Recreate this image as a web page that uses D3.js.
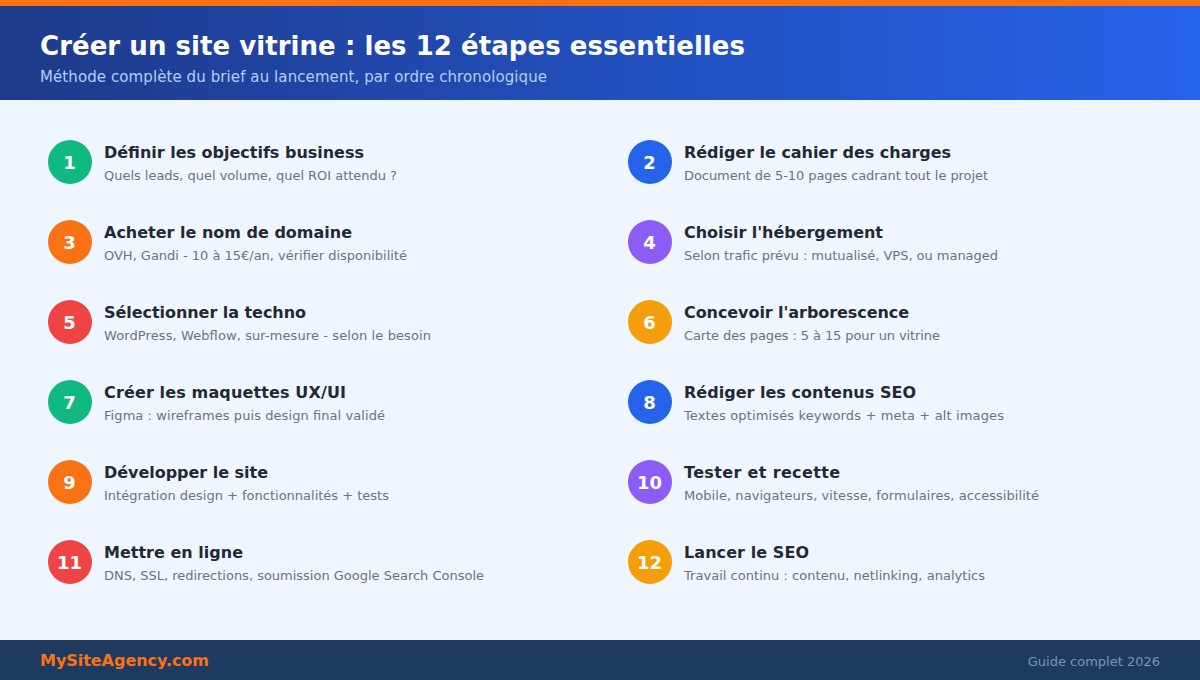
<!DOCTYPE html>
<html>
<head>
<meta charset="utf-8">
<script src="https://cdn.jsdelivr.net/npm/d3@7"></script>
<style>
  html, body { margin: 0; padding: 0; background: #eff6ff; }
  svg { display: block; font-family: "DejaVu Sans", sans-serif; }
</style>
</head>
<body>
<div id="chart"></div>
<script>
const title = "Créer un site vitrine : les 12 étapes essentielles";
const subtitle = "Méthode complète du brief au lancement, par ordre chronologique";
const brand = "MySiteAgency.com";
const footerNote = "Guide complet 2026";

const stepNumbers = [1, 2, 3, 4, 5, 6, 7, 8, 9, 10, 11, 12];
const stepTitles = [
  "Définir les objectifs business",
  "Rédiger le cahier des charges",
  "Acheter le nom de domaine",
  "Choisir l'hébergement",
  "Sélectionner la techno",
  "Concevoir l'arborescence",
  "Créer les maquettes UX/UI",
  "Rédiger les contenus SEO",
  "Développer le site",
  "Tester et recette",
  "Mettre en ligne",
  "Lancer le SEO",
];
const stepDetails = [
  "Quels leads, quel volume, quel ROI attendu ?",
  "Document de 5-10 pages cadrant tout le projet",
  "OVH, Gandi - 10 à 15€/an, vérifier disponibilité",
  "Selon trafic prévu : mutualisé, VPS, ou managed",
  "WordPress, Webflow, sur-mesure - selon le besoin",
  "Carte des pages : 5 à 15 pour un vitrine",
  "Figma : wireframes puis design final validé",
  "Textes optimisés keywords + meta + alt images",
  "Intégration design + fonctionnalités + tests",
  "Mobile, navigateurs, vitesse, formulaires, accessibilité",
  "DNS, SSL, redirections, soumission Google Search Console",
  "Travail continu : contenu, netlinking, analytics",
];
const badgeColors = ["#10b981", "#2563eb", "#f97316", "#8b5cf6", "#ef4444", "#f59e0b"];

// text run lengths, the reference hints its glyphs a bit wider or narrower than here
const titleLengths = [260, 267, 248, 199, 202, 225, 242, 232, 164, 156, 139, 125];
const detailLengths = [293, 304, 303, 314, 327, 256, 281, 320, 285, 355, 380, 301];

const width = 1200;
const height = 680;

const svg = d3
  .select("#chart")
  .append("svg")
  .attr("width", width)
  .attr("height", height);

const defs = svg.append("defs");
const grad = defs
  .append("linearGradient")
  .attr("id", "headerGrad")
  .attr("x1", "0%")
  .attr("x2", "100%")
  .attr("y1", "0%")
  .attr("y2", "0%");
grad.append("stop").attr("offset", "0%").attr("stop-color", "#1e3a8a");
grad.append("stop").attr("offset", "100%").attr("stop-color", "#2563eb");

// background, header, footer
svg.append("rect").attr("width", width).attr("height", height).attr("fill", "#eff6ff");
svg.append("rect").attr("width", width).attr("height", 100).attr("fill", "url(#headerGrad)");
svg.append("rect").attr("width", width).attr("height", 6).attr("fill", "#f97316");
svg.append("rect").attr("y", 640).attr("width", width).attr("height", 40).attr("fill", "#1e3a5f");

svg.append("text")
  .attr("x", 40).attr("y", 55)
  .attr("font-size", 26).attr("font-weight", 700).attr("fill", "#ffffff")
  .attr("textLength", 705)
  .text(title);
svg.append("text")
  .attr("x", 40).attr("y", 82)
  .attr("font-size", 15).attr("fill", "#b4cef8")
  .attr("textLength", 507)
  .text(subtitle);

svg.append("text")
  .attr("x", 40).attr("y", 666)
  .attr("font-size", 16).attr("font-weight", 700).attr("fill", "#f97316")
  .attr("textLength", 169)
  .text(brand);
svg.append("text")
  .attr("x", 1160).attr("y", 666)
  .attr("text-anchor", "end")
  .attr("font-size", 13).attr("fill", "#7f95b3")
  .text(footerNote);

// grid of steps: two columns, six rows
const col = d3.scaleOrdinal().domain([0, 1]).range([70, 650]);
const row = d3.scaleLinear().domain([0, 5]).range([162, 562]);

const steps = svg
  .append("g")
  .selectAll("g")
  .data(stepNumbers)
  .enter()
  .append("g")
  .attr("transform", (d, i) => `translate(${col(i % 2)},${row(Math.floor(i / 2))})`);

steps
  .append("circle")
  .attr("r", 22)
  .attr("fill", (d, i) => badgeColors[i % badgeColors.length]);

steps
  .append("text")
  .attr("x", -0.5)
  .attr("y", 7)
  .attr("text-anchor", "middle")
  .attr("font-size", 18)
  .attr("font-weight", 700)
  .attr("fill", "#ffffff")
  .text((d) => d);

steps
  .append("text")
  .attr("x", 34)
  .attr("y", -4)
  .attr("font-size", 16)
  .attr("font-weight", 700)
  .attr("fill", "#1f2937")
  .attr("textLength", (d, i) => titleLengths[i])
  .text((d, i) => stepTitles[i]);

steps
  .append("text")
  .attr("x", 34)
  .attr("y", 18)
  .attr("font-size", 13)
  .attr("fill", "#6b7280")
  .attr("textLength", (d, i) => detailLengths[i])
  .text((d, i) => stepDetails[i]);
</script>
</body>
</html>
